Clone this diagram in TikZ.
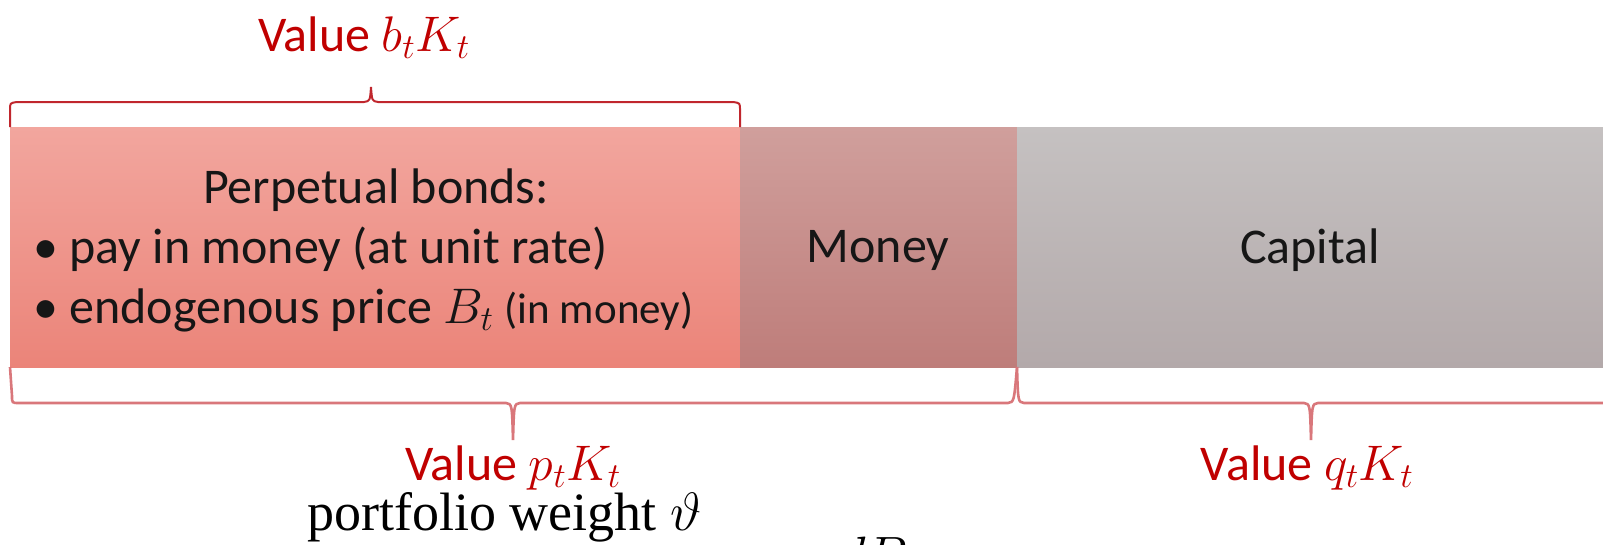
\RequirePackage{fix-cm}
\documentclass[tikz,border=0pt]{standalone}
\usepackage{fontspec}
\setmainfont{Carlito}
\newfontfamily\timesf{Liberation Serif}
\usetikzlibrary{calc}
\definecolor{bondT}{HTML}{F2A69E}
\definecolor{bondB}{HTML}{EB8479}
\definecolor{monT}{HTML}{D09F9C}
\definecolor{monB}{HTML}{BE7D7A}
\definecolor{capT}{HTML}{C5C1C1}
\definecolor{capB}{HTML}{B3A9AA}
\definecolor{brR}{HTML}{C0262D}
\definecolor{brP}{HTML}{D9777B}
\definecolor{valR}{HTML}{C00000}
\definecolor{txt}{HTML}{161616}
\tikzset{
  barbox/.style={rectangle, draw=none, inner sep=0pt, outer sep=0pt, anchor=north west, minimum height=240pt, shading=axis, shading angle=0},
  boxtext/.style={inner sep=0pt, text=txt, font=\fontsize{50}{60}\selectfont},
  valtext/.style={inner sep=0pt, text=valR, font=\fontsize{50}{60}\selectfont, anchor=base},
  topbrace/.style={draw=brR, line width=2pt},
  botbrace/.style={draw=brP, line width=2.6pt},
}
\begin{document}
\begin{tikzpicture}[x=1pt, y=-1pt]
\useasboundingbox (0,0) rectangle (1603,544);
\clip (0,0) rectangle (1603,544);
% bars
\node[barbox, top color=bondT, bottom color=bondB, minimum width=730pt] (bonds) at (10,127) {};
\node[barbox, top color=monT, bottom color=monB, minimum width=277pt] (money) at (740,127) {};
\node[barbox, top color=capT, bottom color=capB, minimum width=600pt] (capital) at (1017,127) {};
% texts in bars
\node[boxtext, anchor=base] (title) at (376,203) {Perpetual bonds:};
\node[boxtext, anchor=base west] (b1) at (33,263) {• pay in money (at unit rate)};
\node[boxtext, anchor=base west] (b2) at (33,323) {• endogenous price $B_t$ {\fontsize{43}{50}\selectfont(in money)}};
\node[boxtext, anchor=base] (moneyt) at (878,262) {Money};
\node[boxtext, anchor=base] (capt) at (1310,263) {Capital};
% top brace
\coordinate (tt) at (371,87);
\draw[topbrace] (bonds.north west) -- (10,110) .. controls (10,103) .. (17,102) -- (364,102) .. controls (370,101) .. (tt) .. controls (372,101) .. (378,102) -- (733,102) .. controls (740,103) .. (740,110) -- (bonds.north east);
\node[valtext] (vb) at (364,51) {Value $b_tK_t$};
% bottom left brace
\coordinate (tp) at (513,440);
\draw[botbrace] (bonds.south west) -- (12,396) .. controls (12,403) .. (19,403) -- (506,403) .. controls (512,404) .. (tp) .. controls (514,404) .. (520,403) -- (1008,403) .. controls (1014,402) .. (money.south east);
% bottom right brace
\coordinate (tq) at (1311,440);
\draw[botbrace] (capital.south west) .. controls (1018,402) .. (1024,403) -- (1304,403) .. controls (1310,404) .. (tq) .. controls (1312,404) .. (1318,403) -- (1610,403);
\node[valtext] (vp) at (513,480) {Value $p_tK_t$};
\node[valtext] (vq) at (1307,480) {Value $q_tK_t$};
% bottom texts
\node[inner sep=0pt, anchor=base west, font=\timesf\fontsize{54}{60}\selectfont] (pw) at (307,530) {portfolio weight $\vartheta$};
\node[inner sep=0pt, anchor=base west, font=\fontsize{54}{60}\selectfont] (db) at (838,574) {$dB$};
\end{tikzpicture}
\end{document}
